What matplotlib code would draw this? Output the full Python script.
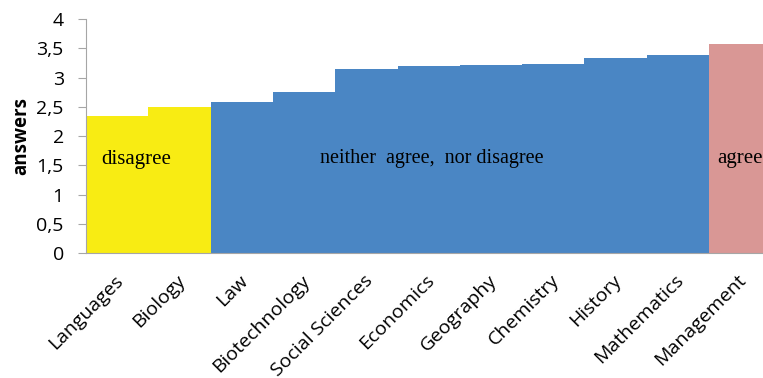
import numpy as np
import matplotlib.pyplot as plt
from matplotlib.transforms import ScaledTranslation

# mean answers per field of study
fields = ['Languages', 'Biology', 'Law', 'Biotechnology', 'Social Sciences',
          'Economics', 'Geography', 'Chemistry', 'History', 'Mathematics',
          'Management']
answers = [2.35, 2.50, 2.59, 2.75, 3.15, 3.19, 3.21, 3.23, 3.34, 3.38, 3.57]
groups = ['disagree', 'disagree', 'neutral', 'neutral', 'neutral', 'neutral',
          'neutral', 'neutral', 'neutral', 'neutral', 'agree']

group_colors = {'disagree': '#F8EC13', 'neutral': '#4A86C4', 'agree': '#D99795'}

plt.rcParams['font.family'] = ['Open Sans', 'DejaVu Sans']

fig = plt.figure(figsize=(7.63, 3.78), dpi=100)
ax = fig.add_axes([86 / 763, 1 - 253.3 / 378, 11 * 62.3 / 763, 234.3 / 378])

x = np.arange(len(fields))
ax.bar(x, answers, width=1.0, color=[group_colors[g] for g in groups],
       linewidth=0)

ax.set_xlim(-0.5, len(fields) - 0.5)
ax.set_ylim(0, 4)
ax.set_yticks(np.arange(0, 4.01, 0.5))
ax.set_yticklabels(['0', '0,5', '1', '1,5', '2', '2,5', '3', '3,5', '4'],
                   fontsize=14)
ax.set_xticks(x)
ax.set_xticklabels(fields, rotation=45, ha='right', rotation_mode='anchor',
                   fontsize=14)
ax.tick_params(axis='x', length=0, pad=13)
ax.tick_params(axis='y', length=6, color='#A6A6A6', pad=10)

# nudge the slanted labels a little to the left
shift = ScaledTranslation(-3 / 100, 0, fig.dpi_scale_trans)
for lbl in ax.get_xticklabels():
    lbl.set_transform(lbl.get_transform() + shift)

for side in ['top', 'right']:
    ax.spines[side].set_visible(False)
for side in ['left', 'bottom']:
    ax.spines[side].set_color('#A6A6A6')

ax.set_ylabel('answers', fontsize=13.5, fontweight='bold', labelpad=4)

# group captions inside the bars
serif = ['Liberation Serif', 'DejaVu Serif']
ax.text(0.30, 1.60, 'disagree', fontsize=15, family=serif,
        ha='center', va='center')
ax.text(5.05, 1.62, 'neither  agree,  nor disagree', fontsize=14.5,
        family=serif, ha='center', va='center')
ax.text(10.0, 1.62, 'agree', fontsize=15, family=serif,
        ha='center', va='center')

fig.savefig('out.png', dpi=100)
